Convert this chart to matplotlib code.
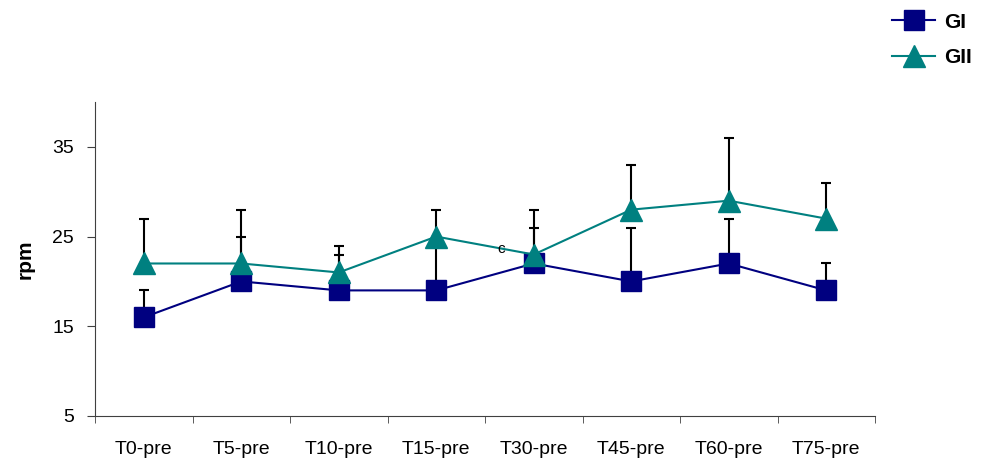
import numpy as np
import matplotlib
matplotlib.use('Agg')
import matplotlib.pyplot as plt

# respiratory rate per time point, mean and upper SD bound
labels = ['T0-pre', 'T5-pre', 'T10-pre', 'T15-pre', 'T30-pre', 'T45-pre', 'T60-pre', 'T75-pre']
gi_mean = [16, 20, 19, 19, 22, 20, 22, 19]
gi_upper = [19, 25, 23, 25, 26, 26, 27, 22]
gii_mean = [22, 22, 21, 25, 23, 28, 29, 27]
gii_upper = [27, 28, 24, 28, 28, 33, 36, 31]

plt.rcParams['font.family'] = ['Liberation Sans', 'DejaVu Sans']
fig = plt.figure(figsize=(9.84, 4.63), dpi=100)
ax = fig.add_axes([95/984, 47/463, 780/984, 314/463])

x = np.arange(len(labels))
gi_err = [np.zeros(len(x)), np.array(gi_upper) - np.array(gi_mean)]
gii_err = [np.zeros(len(x)), np.array(gii_upper) - np.array(gii_mean)]

ax.errorbar(x, gi_mean, yerr=gi_err, fmt='none', ecolor='black', elinewidth=1.5,
            capsize=3.8, capthick=1.5, zorder=2)
ax.errorbar(x, gii_mean, yerr=gii_err, fmt='none', ecolor='black', elinewidth=1.5,
            capsize=3.8, capthick=1.5, zorder=2)
ax.plot(x, gi_mean, color='#000080', linewidth=1.5, marker='s', markersize=15,
        markeredgecolor='#000080', label='GI', zorder=3)
ax.plot(x, gii_mean, color='#008080', linewidth=1.5, marker='^', markersize=16,
        markeredgecolor='#008080', label='GII', zorder=3)

ax.text(3.67, 23.6, 'c', fontsize=11, ha='center', va='center')

ax.set_xlim(-0.5, 7.5)
ax.set_ylim(5, 40)
ax.set_yticks([5, 15, 25, 35])
ax.set_xticks(x)
ax.set_xticklabels(labels, fontsize=14)
ax.set_xticks(np.arange(-0.5, 8, 1), minor=True)
ax.tick_params(axis='x', which='major', length=0, pad=18)
ax.tick_params(axis='x', which='minor', length=5, direction='out', color='#404040')
ax.tick_params(axis='y', length=6, direction='out', labelsize=14, color='#404040', pad=9)
for s in ['top', 'right']:
    ax.spines[s].set_visible(False)
for s in ['left', 'bottom']:
    ax.spines[s].set_color('#404040')
ax.set_ylabel('rpm', fontsize=15, fontweight='bold', labelpad=13)

leg = fig.legend(loc='upper right', bbox_to_anchor=(1.0, 1.0), frameon=False,
                 prop={'size': 15, 'weight': 'bold'}, handlelength=2.1,
                 labelspacing=0.8, handletextpad=0.4, borderaxespad=0.2)

plt.savefig('out.png', format='png')
